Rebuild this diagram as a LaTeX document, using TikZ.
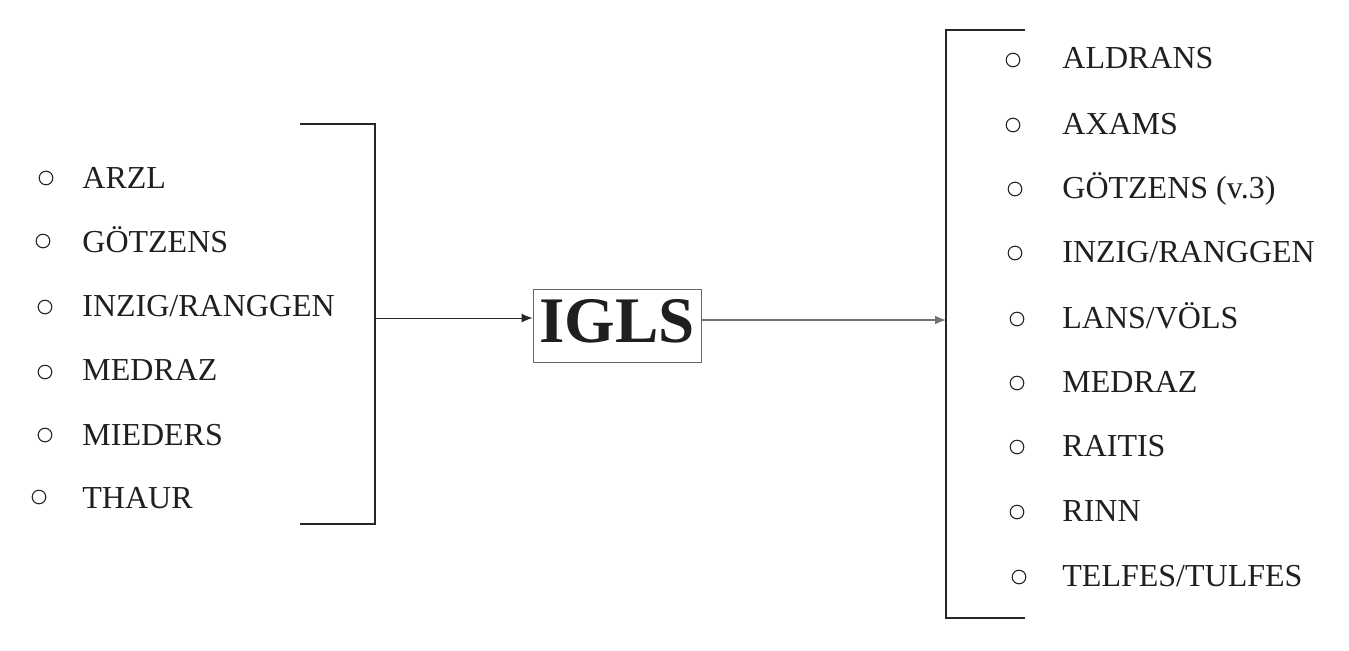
\documentclass[tikz,border=0pt]{standalone}
\usepackage{fontspec}
\setmainfont{Liberation Serif}
\usetikzlibrary{arrows.meta,positioning}
\begin{document}
\begin{tikzpicture}[x=0.5pt,y=-0.5pt,>={Latex[length=5.5pt,width=4.5pt]}]
  \useasboundingbox (0,0) rectangle (1349,650);
  \tikzset{
    town/.style={anchor=base west,inner sep=0pt,text=black!88,font=\fontsize{16}{19}\selectfont},
    bulletmark/.style={circle,draw=black!85,line width=0.55pt,minimum size=6.8pt,inner sep=0pt},
    hub/.style={rectangle,draw=black!60,line width=0.5pt,anchor=base,text=black!88,
      font=\fontsize{32.5}{36}\selectfont\bfseries,text height=22pt,text depth=5.5pt,
      inner xsep=3pt,inner ysep=4.5pt,minimum width=84pt},
    bracket/.style={draw=black!85,line width=0.6pt},
    % edge styles
    feed/.style={->,draw=black!85,line width=0.5pt},
    spread/.style={->,draw=black!55,line width=0.8pt}
  }

  % Centre
  \node [hub] (igls) at (617,342) {IGLS};

  % Left list
  \node [town] (arzl) at (82,188) {ARZL};
  \node [bulletmark] (barzl) at (46,178) {};
  \node [town] (goetzens) at (82,252) {GÖTZENS};
  \node [bulletmark] (bgoetzens) at (43,241) {};
  \node [town] (inzig) at (82,316) {INZIG/RANGGEN};
  \node [bulletmark] (binzig) at (45,307) {};
  \node [town] (medraz) at (82,380) {MEDRAZ};
  \node [bulletmark] (bmedraz) at (45,372) {};
  \node [town] (mieders) at (82,445) {MIEDERS};
  \node [bulletmark] (bmieders) at (45,435) {};
  \node [town] (thaur) at (82,508) {THAUR};
  \node [bulletmark] (bthaur) at (39,497) {};

  % Left bracket
  \coordinate (ltop) at (300,124);
  \coordinate (lbot) at (300,524);
  \coordinate (lmid) at (375,318);
  \draw [bracket] (ltop) -- (ltop -| lmid) -- (lbot -| lmid) -- (lbot);
  \draw [feed] (lmid) -- (lmid -| igls.west);

  % Right list
  \node [town] (aldrans) at (1062,68) {ALDRANS};
  \node [bulletmark] (baldrans) at (1013,60) {};
  \node [town] (axams) at (1062,134) {AXAMS};
  \node [bulletmark] (baxams) at (1013,125) {};
  \node [town] (goetzensv) at (1062,198) {GÖTZENS (v.3)};
  \node [bulletmark] (bgoetzensv) at (1015,189) {};
  \node [town] (inzigr) at (1062,262) {INZIG/RANGGEN};
  \node [bulletmark] (binzigr) at (1015,253) {};
  \node [town] (lans) at (1062,328) {LANS/VÖLS};
  \node [bulletmark] (blans) at (1017,319) {};
  \node [town] (medrazr) at (1062,392) {MEDRAZ};
  \node [bulletmark] (bmedrazr) at (1017,383) {};
  \node [town] (raitis) at (1062,456) {RAITIS};
  \node [bulletmark] (braitis) at (1017,447) {};
  \node [town] (rinn) at (1062,521) {RINN};
  \node [bulletmark] (brinn) at (1017,512) {};
  \node [town] (telfes) at (1062,586) {TELFES/TULFES};
  \node [bulletmark] (btelfes) at (1019,577) {};

  % Right bracket
  \coordinate (rtop) at (1025,30);
  \coordinate (rbot) at (1025,618);
  \coordinate (rmid) at (946,320);
  \draw [bracket] (rtop) -- (rtop -| rmid) -- (rbot -| rmid) -- (rbot);
  \draw [spread] (igls.east |- rmid) -- (rmid);

\end{tikzpicture}
\end{document}
